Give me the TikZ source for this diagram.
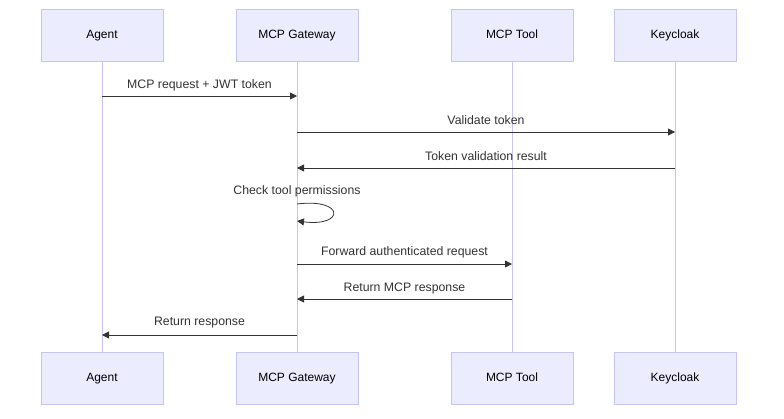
\documentclass[tikz,border=0pt]{standalone}
\usepackage{fontspec}
\setmainfont{Liberation Sans}
\usetikzlibrary{arrows.meta,positioning}
\definecolor{boxfill}{HTML}{ECECFF}
\definecolor{boxline}{HTML}{C8C4F0}
\definecolor{msgline}{HTML}{333333}
\tikzset{
        actor/.style = {draw=boxline, fill=boxfill, rectangle, inner sep=0pt,
            text height=9pt, text depth=2.5pt,
            minimum height=52pt, minimum width=122pt, font=\fontsize{12}{14}\selectfont},
        life/.style = {draw=boxline, line width=0.8pt},
        msg/.style = {draw=msgline, -{Triangle[length=7pt,width=7pt]}, line width=0.8pt},
        lbl/.style = {font=\fontsize{12.3}{14}\selectfont, text=msgline},
    }
\begin{document}
\begin{tikzpicture}[x=1pt,y=-1pt]
    \useasboundingbox (0,0) rectangle (784,418);
    % lifelines
    \coordinate (agT) at (102,61);   \coordinate (agB) at (102,352);
    \coordinate (gwT) at (297,61);   \coordinate (gwB) at (297,352);
    \coordinate (tlT) at (512,61);   \coordinate (tlB) at (512,352);
    \coordinate (kcT) at (675,61);   \coordinate (kcB) at (675,352);
    \draw[life] (agT) -- (agB);
    \draw[life] (gwT) -- (gwB);
    \draw[life] (tlT) -- (tlB);
    \draw[life] (kcT) -- (kcB);
    % participants
    \node[actor] (ag1) at (102,35) {Agent};
    \node[actor] (gw1) at (297,35) {MCP Gateway};
    \node[actor] (tl1) at (512,35) {MCP Tool};
    \node[actor] (kc1) at (675,35) {Keycloak};
    \node[actor] (ag2) at (102,378) {Agent};
    \node[actor] (gw2) at (297,378) {MCP Gateway};
    \node[actor] (tl2) at (512,378) {MCP Tool};
    \node[actor] (kc2) at (675,378) {Keycloak};
    % messages
    \coordinate (a1) at (102,96);  \coordinate (g1) at (297,96);
    \draw[msg] (a1) -- (g1);
    \node[lbl] (m1) at (199.5,85) {MCP request + JWT token};
    \coordinate (g2) at (297,132); \coordinate (k2) at (675,132);
    \draw[msg] (g2) -- (k2);
    \node[lbl] (m2) at (486,120) {Validate token};
    \coordinate (k3) at (675,168); \coordinate (g3) at (297,168);
    \draw[msg] (k3) -- (g3);
    \node[lbl] (m3) at (486,156) {Token validation result};
    \coordinate (g4) at (297,204); \coordinate (g4e) at (297,221);
    \draw[msg] (g4) .. controls (345,198) and (345,227) .. (g4e);
    \node[lbl] (m4) at (297,191) {Check tool permissions};
    \coordinate (g5) at (297,264); \coordinate (t5) at (512,264);
    \draw[msg] (g5) -- (t5);
    \node[lbl] (m5) at (404.5,252) {Forward authenticated request};
    \coordinate (t6) at (512,299); \coordinate (g6) at (297,299);
    \draw[msg] (t6) -- (g6);
    \node[lbl] (m6) at (404.5,288) {Return MCP response};
    \coordinate (g7) at (297,335); \coordinate (a7) at (102,335);
    \draw[msg] (g7) -- (a7);
    \node[lbl] (m7) at (199.5,323) {Return response};
\end{tikzpicture}
\end{document}
